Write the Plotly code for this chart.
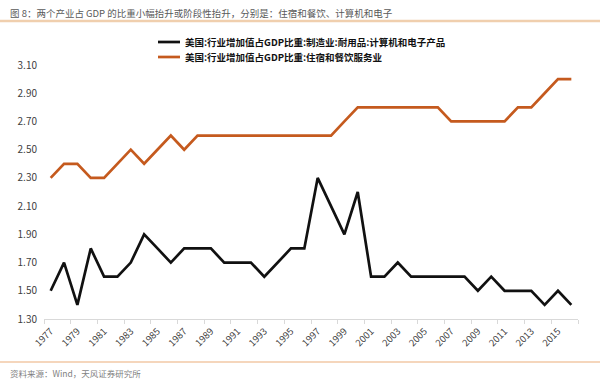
import plotly.graph_objects as go

years = list(range(1977, 2017))
computer = [1.5, 1.7, 1.4, 1.8, 1.6, 1.6, 1.7, 1.9, 1.8, 1.7,
            1.8, 1.8, 1.8, 1.7, 1.7, 1.7, 1.6, 1.7, 1.8, 1.8,
            2.3, 2.1, 1.9, 2.2, 1.6, 1.6, 1.7, 1.6, 1.6, 1.6,
            1.6, 1.6, 1.5, 1.6, 1.5, 1.5, 1.5, 1.4, 1.5, 1.4]
hotel = [2.3, 2.4, 2.4, 2.3, 2.3, 2.4, 2.5, 2.4, 2.5, 2.6,
         2.5, 2.6, 2.6, 2.6, 2.6, 2.6, 2.6, 2.6, 2.6, 2.6,
         2.6, 2.6, 2.7, 2.8, 2.8, 2.8, 2.8, 2.8, 2.8, 2.8,
         2.7, 2.7, 2.7, 2.7, 2.7, 2.8, 2.8, 2.9, 3.0, 3.0]
name1 = "美国:行业增加值占GDP比重:制造业:耐用品:计算机和电子产品"
name2 = "美国:行业增加值占GDP比重:住宿和餐饮服务业"
colors = ["#111111", "#C55A1E"]
yticks = [1.3, 1.5, 1.7, 1.9, 2.1, 2.3, 2.5, 2.7, 2.9, 3.1]
xticks = list(range(1977, 2017, 2))
xbounds = [y - 0.5 for y in range(1977, 2018, 2)]

title = "图 8：两个产业占 GDP 的比重小幅抬升或阶段性抬升，分别是：住宿和餐饮、计算机和电子"
source = "资料来源：Wind，天风证券研究所"

CJK = "Noto Sans CJK SC"

W, H = 600, 382
L, R, T, B = 44, 22, 65, 63
PW, PH = W - L - R, H - T - B


def px(x):
    return (x - L) / PW


def py(y):
    return (H - B - y) / PH


fig = go.Figure()
fig.add_trace(go.Scatter(x=years, y=computer, mode="lines", name=name1,
                         line=dict(color=colors[0], width=2.7)))
fig.add_trace(go.Scatter(x=years, y=hotel, mode="lines", name=name2,
                         line=dict(color=colors[1], width=2.7)))

shapes = [
    dict(type="line", xref="paper", yref="paper", x0=px(0), x1=px(W),
         y0=py(21), y1=py(21), line=dict(color="#F0CFAE", width=2.5)),
    dict(type="line", xref="paper", yref="paper", x0=px(0), x1=px(W),
         y0=py(362), y1=py(362), line=dict(color="#F2C9A6", width=1.5)),
]
annotations = [
    dict(text=title, xref="paper", yref="paper", x=px(8), y=py(13),
         xanchor="left", yanchor="middle", showarrow=False,
         font=dict(family=CJK, size=9.5, color="#595959")),
    dict(text=source, xref="paper", yref="paper", x=px(8), y=py(373),
         xanchor="left", yanchor="middle", showarrow=False,
         font=dict(family=CJK, size=8.5, color="#7F7F7F")),
]
for i, (nm, c) in enumerate(zip([name1, name2], colors)):
    yy = 42 + 15 * i
    shapes.append(dict(type="line", xref="paper", yref="paper",
                       x0=px(158), x1=px(180), y0=py(yy), y1=py(yy),
                       line=dict(color=c, width=2.7)))
    annotations.append(dict(text="<b>" + nm + "</b>", xref="paper", yref="paper",
                            x=px(183), y=py(yy), xanchor="left", yanchor="middle",
                            showarrow=False,
                            font=dict(family=CJK, size=9.5, color="#111111")))

fig.update_layout(
    width=W, height=H,
    margin=dict(l=L, r=R, t=T, b=B, autoexpand=False),
    paper_bgcolor="white", plot_bgcolor="white",
    font=dict(family=CJK, size=10, color="#333333"),
    showlegend=False,
    xaxis=dict(range=[1976.5, 2016.5], tickvals=xticks,
               ticktext=[str(v) for v in xticks], tickangle=-45,
               showgrid=False, zeroline=False, showline=True,
               linecolor="#D9D9D9", linewidth=1,
               ticks="", ticklabelstandoff=2,
               minor=dict(tickvals=xbounds, ticks="outside", ticklen=4,
                          tickcolor="#D9D9D9", showgrid=False),
               tickfont=dict(family=CJK, size=9.5, color="#404040")),
    yaxis=dict(range=[1.3, 3.1], tickvals=yticks,
               ticktext=[f"{v:.2f}" for v in yticks],
               showgrid=False, zeroline=False, showline=False,
               ticks="", ticklabelstandoff=6,
               tickfont=dict(family=CJK, size=10, color="#404040")),
    shapes=shapes,
    annotations=annotations,
)

fig.write_html("out.html", config={"displayModeBar": False},
               post_script="document.body.style.margin='0';document.body.style.overflow='hidden';")
